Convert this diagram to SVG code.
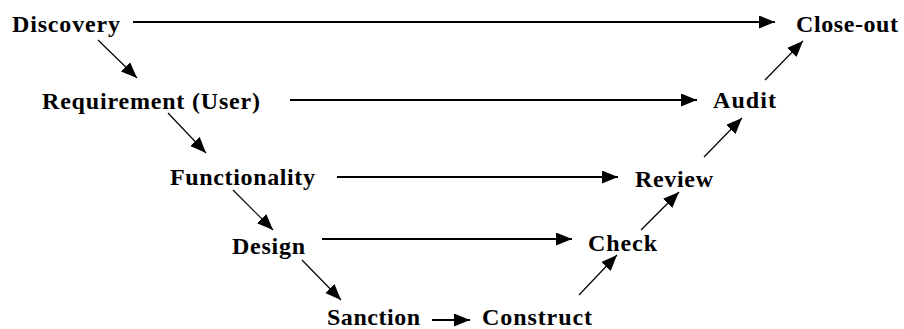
<svg xmlns="http://www.w3.org/2000/svg" width="904" height="329" viewBox="0 0 904 329">
<style>
  text { font-family: "Liberation Serif", "Times New Roman", serif; font-weight: bold; font-size: 24px; fill: #000; }
  .h { stroke: #000; stroke-width: 2; fill: none; }
  .d { stroke: #000; stroke-width: 1.2; fill: none; }
</style>
<defs>
  <marker id="ah" markerUnits="userSpaceOnUse" markerWidth="18" markerHeight="14" refX="16" refY="6.5" orient="auto">
    <path d="M0,0 L16,6.5 L0,13 z" fill="#000"/>
  </marker>
</defs>
<rect width="904" height="329" fill="#fff"/>
<g id="connectors">
  <line class="h" x1="133" y1="22" x2="775" y2="22" marker-end="url(#ah)"/>
  <line class="h" x1="290" y1="100" x2="697" y2="100" marker-end="url(#ah)"/>
  <line class="h" x1="337" y1="177" x2="618" y2="177" marker-end="url(#ah)"/>
  <line class="h" x1="322" y1="239" x2="572" y2="239" marker-end="url(#ah)"/>
  <line class="h" x1="432" y1="320" x2="470" y2="320" marker-end="url(#ah)"/>
  <line class="d" x1="98" y1="40" x2="137" y2="78" marker-end="url(#ah)"/>
  <line class="d" x1="168" y1="113" x2="206" y2="153" marker-end="url(#ah)"/>
  <line class="d" x1="233" y1="190" x2="273" y2="230" marker-end="url(#ah)"/>
  <line class="d" x1="302" y1="260" x2="341" y2="300" marker-end="url(#ah)"/>
  <line class="d" x1="579" y1="295" x2="617" y2="255" marker-end="url(#ah)"/>
  <line class="d" x1="641" y1="230" x2="679" y2="192" marker-end="url(#ah)"/>
  <line class="d" x1="704" y1="157" x2="742" y2="118" marker-end="url(#ah)"/>
  <line class="d" x1="765" y1="80" x2="803" y2="41" marker-end="url(#ah)"/>
</g>
<g id="discovery"><text x="12" y="32" textLength="108" lengthAdjust="spacing">Discovery</text></g>
<g id="closeout"><text x="796" y="32" textLength="102" lengthAdjust="spacing">Close-out</text></g>
<g id="requirement"><text x="42" y="109" textLength="218" lengthAdjust="spacing">Requirement (User)</text></g>
<g id="audit"><text x="713" y="108" textLength="63" lengthAdjust="spacing">Audit</text></g>
<g id="functionality"><text x="170" y="185" textLength="145" lengthAdjust="spacing">Functionality</text></g>
<g id="review"><text x="635" y="187" textLength="78" lengthAdjust="spacing">Review</text></g>
<g id="design"><text x="232" y="254" textLength="73" lengthAdjust="spacing">Design</text></g>
<g id="check"><text x="588" y="251" textLength="69" lengthAdjust="spacing">Check</text></g>
<g id="sanction"><text x="327" y="325" textLength="93" lengthAdjust="spacing">Sanction</text></g>
<g id="construct"><text x="482" y="325" textLength="110" lengthAdjust="spacing">Construct</text></g>
</svg>
